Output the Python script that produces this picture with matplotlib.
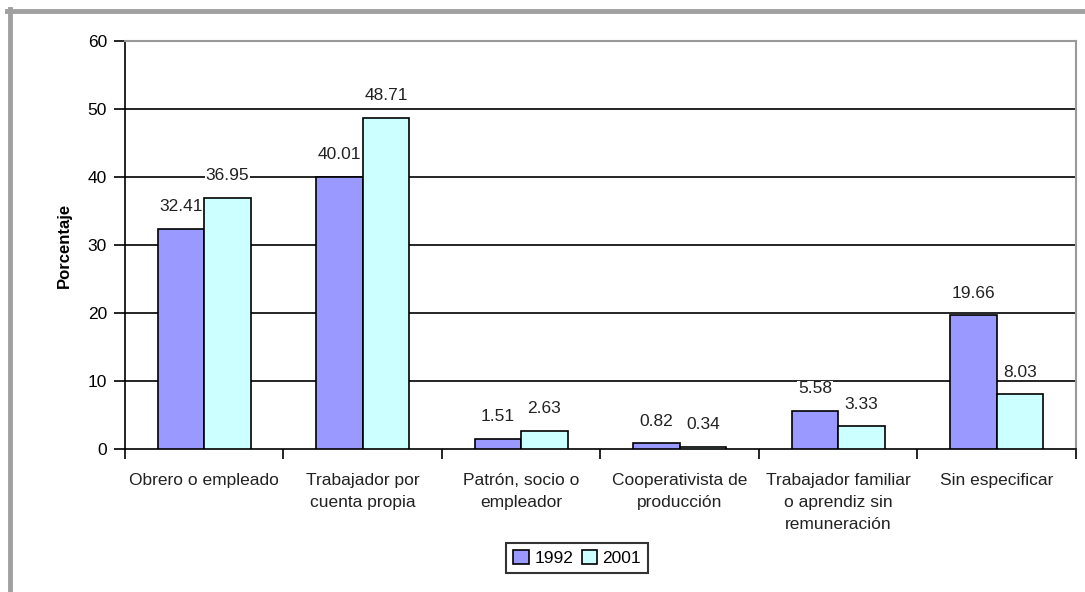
import numpy as np
import matplotlib.pyplot as plt
from matplotlib.lines import Line2D

plt.rcParams['font.family'] = ['Liberation Sans', 'DejaVu Sans']

# Datos: posición en la ocupación (%)
categorias = ["Obrero o empleado", "Trabajador por\ncuenta propia",
              "Patrón, socio o\nempleador", "Cooperativista de\nproducción",
              "Trabajador familiar\no aprendiz sin\nremuneración", "Sin especificar"]
anios = ["1992", "2001"]
val_1992 = [32.41, 40.01, 1.51, 0.82, 5.58, 19.66]
val_2001 = [36.95, 48.71, 2.63, 0.34, 3.33, 8.03]
colores = ["#9999FF", "#CCFFFF"]

fig = plt.figure(figsize=(10.85, 5.92), dpi=100)
ax = fig.add_axes([0.1152, 0.2416, 0.8765, 0.6891])

x = np.arange(len(categorias)) + 0.5
ancho = 0.293
b1 = ax.bar(x - ancho / 2, val_1992, ancho, color=colores[0], edgecolor="black",
            linewidth=1.2, label=anios[0], zorder=3)
b2 = ax.bar(x + ancho / 2, val_2001, ancho, color=colores[1], edgecolor="black",
            linewidth=1.2, label=anios[1], zorder=3)

# etiquetas de valor sobre cada barra
for barras, vals in ((b1, val_1992), (b2, val_2001)):
    for rect, v in zip(barras, vals):
        ax.annotate(f"{v:.2f}", (rect.get_x() + rect.get_width() / 2, v),
                    xytext=(0, 16), textcoords="offset points",
                    ha="center", va="center", fontsize=12.5, color="#222222",
                    bbox=dict(facecolor="white", edgecolor="none", pad=0.5),
                    zorder=4)

ax.set_xlim(0, len(categorias))
ax.set_ylim(0, 60)
ax.set_yticks(np.arange(0, 61, 10))
ax.tick_params(axis="y", labelsize=12.5, length=8, width=1.2, pad=5)

# ticks en los límites de cada grupo, nombres centrados en minor ticks
ax.set_xticks(np.arange(0, len(categorias) + 1))
ax.set_xticklabels([])
ax.set_xticks(x, minor=True)
ax.set_xticklabels(categorias, minor=True, fontsize=12.5, linespacing=1.6,
                   va="top", color="#222222")
ax.tick_params(axis="x", which="major", length=7, width=1.2)
ax.tick_params(axis="x", which="minor", length=0, pad=17)

for yv in range(10, 60, 10):
    ax.axhline(yv, color="black", linewidth=1.2, zorder=1)

ax.spines["left"].set_linewidth(1.2)
ax.spines["bottom"].set_linewidth(1.2)
ax.spines["top"].set_color("#999999")
ax.spines["right"].set_color("#999999")
ax.spines["top"].set_linewidth(1.5)
ax.spines["right"].set_linewidth(1.5)

ax.set_ylabel("Porcentaje", fontsize=12, fontweight="bold")
ax.yaxis.set_label_coords(-0.056, 0.5)

leg = ax.legend(loc="center", bbox_to_anchor=(0.532, 0.0574),
                bbox_transform=fig.transFigure, ncol=2, fontsize=12.5,
                frameon=True, fancybox=False, shadow=False, handlelength=0.9,
                handleheight=0.9, handletextpad=0.3, columnspacing=0.5,
                borderpad=0.4, borderaxespad=0)
leg.get_frame().set_edgecolor("black")
leg.get_frame().set_linewidth(1.5)

# marco gris exterior (arriba e izquierda)
fig.add_artist(Line2D([7 / 1085, 1], [1 - 11 / 592, 1 - 11 / 592],
                      transform=fig.transFigure, color="#A0A0A0", linewidth=3.5))
fig.add_artist(Line2D([10 / 1085, 10 / 1085], [0, 1 - 9 / 592],
                      transform=fig.transFigure, color="#A0A0A0", linewidth=3.5))

fig.savefig("out.png", dpi=100)
